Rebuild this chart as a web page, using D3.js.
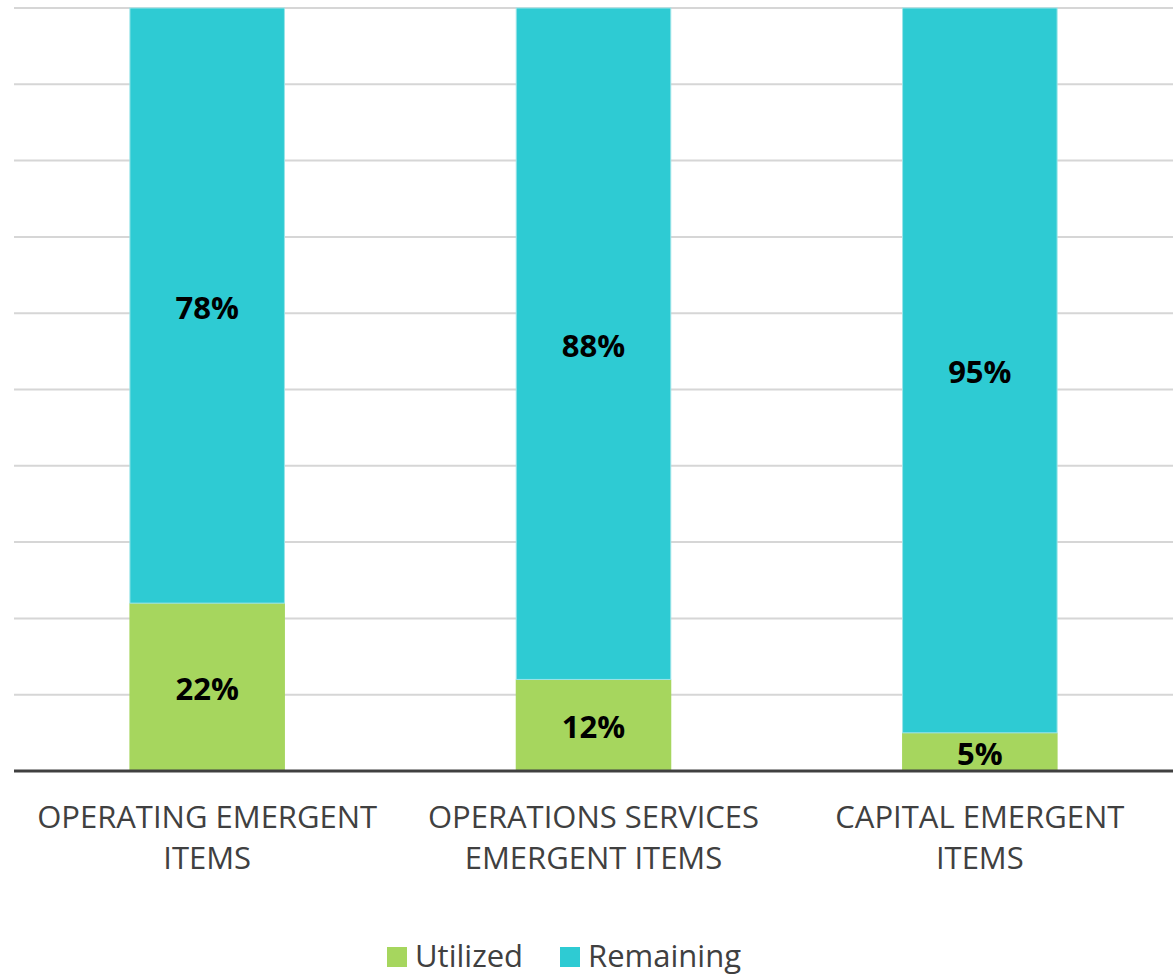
<!DOCTYPE html>
<html>
<head>
<meta charset="utf-8">
<script src="https://cdn.jsdelivr.net/npm/d3@7"></script>
<style>
  html, body { margin: 0; padding: 0; background: #fff; }
  svg { display: block; font-family: "Open Sans", "Noto Sans", sans-serif; }
</style>
</head>
<body>
<svg id="chart" width="1176" height="974"></svg>
<script>
// Emergent item budgets: share utilized vs. remaining (percent)
const categories = [
  ["OPERATING EMERGENT", "ITEMS"],
  ["OPERATIONS SERVICES", "EMERGENT ITEMS"],
  ["CAPITAL EMERGENT", "ITEMS"]
];
const utilized = [22, 12, 5];
const remaining = [78, 88, 95];
const seriesNames = ["Utilized", "Remaining"];
const seriesColors = ["#a6d65e", "#2ecbd3"];
const gridTicks = [0, 10, 20, 30, 40, 50, 60, 70, 80, 90, 100];

(function draw() {
  const svg = d3.select("#chart");
  const plotLeft = 14, plotRight = 1173, plotTop = 8, plotBottom = 771;

  const x = d3.scaleBand()
    .domain(d3.range(categories.length))
    .range([plotLeft, plotRight])
    .paddingInner(0.6)
    .paddingOuter(0.3);

  const y = d3.scaleLinear().domain([0, 100]).range([plotBottom, plotTop]);

  // horizontal gridlines
  svg.append("g")
    .selectAll("line")
    .data(gridTicks.filter(t => t > 0))
    .join("line")
    .attr("x1", plotLeft).attr("x2", plotRight)
    .attr("y1", d => y(d)).attr("y2", d => y(d))
    .attr("stroke", "#d6d6d6")
    .attr("stroke-width", 2);

  const rows = categories.map((c, i) => ({ i, Utilized: utilized[i], Remaining: remaining[i] }));
  const stack = d3.stack().keys(seriesNames)(rows);

  const bars = svg.append("g");
  stack.forEach((layer, k) => {
    bars.append("g")
      .selectAll("rect")
      .data(layer)
      .join("rect")
      .attr("x", d => x(d.data.i) - (k === 0 ? 0.5 : 0))
      .attr("width", x.bandwidth() + (k === 0 ? 1 : 0))
      .attr("y", d => y(d[1]))
      .attr("height", d => y(d[0]) - y(d[1]))
      .attr("fill", seriesColors[k])
      .attr("stroke", k === 1 ? "#9be4e8" : "none")
      .attr("stroke-width", k === 1 ? 1 : 0);
  });

  // value labels centred in each segment
  stack.forEach((layer) => {
    svg.append("g")
      .selectAll("text")
      .data(layer)
      .join("text")
      .attr("x", d => x(d.data.i) + x.bandwidth() / 2)
      .attr("y", d => (y(d[0]) + y(d[1])) / 2 + 1)
      .attr("text-anchor", "middle")
      .attr("dominant-baseline", "central")
      .attr("font-size", 31)
      .attr("font-weight", 700)
      .attr("fill", "#000")
      .text(d => (d[1] - d[0]) + "%");
  });

  // category axis
  const xAxis = svg.append("g").attr("transform", `translate(0,${plotBottom})`)
    .call(d3.axisBottom(x).tickSize(0).tickFormat(""));
  xAxis.select(".domain").remove();
  svg.append("line")
    .attr("x1", plotLeft).attr("x2", plotRight)
    .attr("y1", plotBottom).attr("y2", plotBottom)
    .attr("stroke", "#404040")
    .attr("stroke-width", 3);

  const catLabels = svg.append("g")
    .selectAll("text")
    .data(categories)
    .join("text")
    .attr("x", (d, i) => x(i) + x.bandwidth() / 2)
    .attr("y", 828)
    .attr("text-anchor", "middle")
    .attr("font-size", 31)
    .attr("fill", "#404040");
  catLabels.selectAll("tspan")
    .data(d => d)
    .join("tspan")
    .attr("x", function () { return d3.select(this.parentNode).attr("x"); })
    .attr("dy", (d, j) => j === 0 ? 0 : 41)
    .text(d => d);

  // legend
  const legendItems = [
    { name: seriesNames[0], color: seriesColors[0], x: 387 },
    { name: seriesNames[1], color: seriesColors[1], x: 560 }
  ];
  const legend = svg.append("g");
  legendItems.forEach(it => {
    legend.append("rect")
      .attr("x", it.x).attr("y", 947)
      .attr("width", 20).attr("height", 20)
      .attr("fill", it.color);
    legend.append("text")
      .attr("x", it.x + 28).attr("y", 967)
      .attr("font-size", 31)
      .attr("fill", "#404040")
      .text(it.name);
  });
})();
</script>
</body>
</html>
